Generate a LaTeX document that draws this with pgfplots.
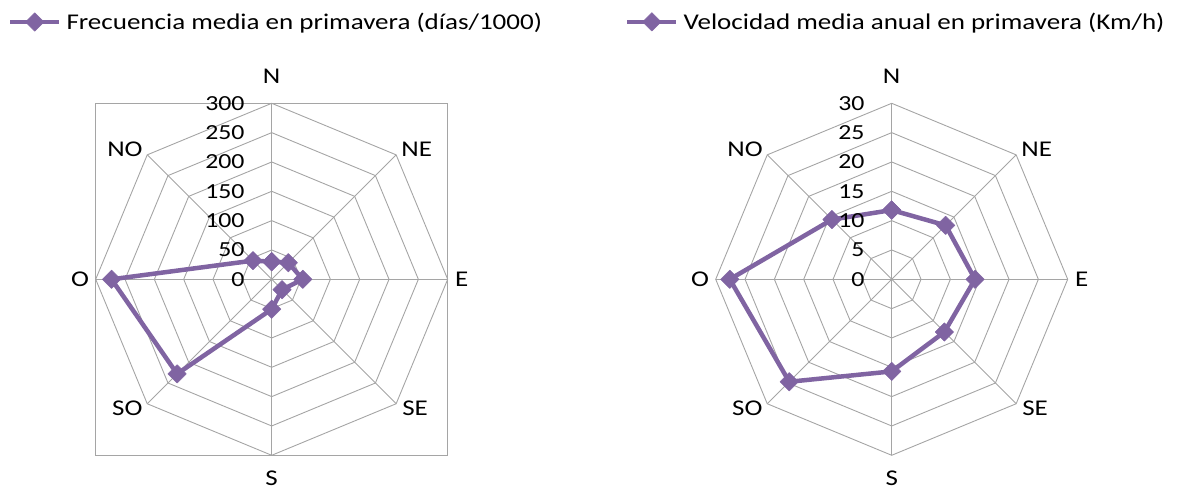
\documentclass[border=0pt]{standalone}
\usepackage{fontspec}
\setmainfont{Carlito}[FakeStretch=1.2]
\usepackage{pgfplots}
\usepgfplotslibrary{polar}
\pgfplotsset{compat=1.18}
\definecolor{series}{RGB}{128,100,162}
\definecolor{gridc}{RGB}{165,165,165}

\pgfplotsset{
 radar/.style={
  width=352pt, height=352pt, scale only axis, hide axis, clip=false,
  xmin=0, xmax=360, ymin=0,
  legend image code/.code={\draw[mark repeat=2,mark phase=2] plot coordinates {(0pt,0pt) (24.5pt,0pt) (49pt,0pt)};},
  legend style={draw=none, fill=none, inner sep=0pt, outer sep=0pt, anchor=west,
    font=\fontsize{22.5}{27}\selectfont, nodes={inner sep=0pt}},
 },
 ring/.style={gridc, line width=0.9pt, forget plot, mark=none},
 serie/.style={color=series, line width=4.5pt, line join=round, mark=square*, mark size=6.5pt,
   mark options={rotate=45, solid, fill=series, line width=0.5pt}},
}
\tikzset{
 cat/.style={font=\fontsize{22.5}{26}\selectfont, inner sep=0pt},
 tck/.style={font=\fontsize{21.5}{25}\selectfont, inner sep=0pt, anchor=east, xshift=-27pt},
}

\begin{document}
\begin{tikzpicture}[x=1pt,y=1pt]
\useasboundingbox (0,0) rectangle (1180,492);

% ---------------- left chart ----------------
\begin{polaraxis}[radar, at={(271.7pt,212.7pt)}, anchor=origin, ymax=300,
  legend style={at={(axis cs:135.7,628)}}]
\addplot[ring] coordinates {(45,424.26) (135,424.26) (225,424.26) (315,424.26) (45,424.26)};
\pgfplotsinvokeforeach{50,100,150,200,250,300}{
 \addplot[ring] coordinates {(0,#1) (45,#1) (90,#1) (135,#1) (180,#1) (225,#1) (270,#1) (315,#1) (360,#1)};
}
\pgfplotsinvokeforeach{0,45,90,135,180,225,270,315}{
 \addplot[ring] coordinates {(#1,0) (#1,300)};
}
\addplot[serie] coordinates {(90,30) (45,40) (0,53) (315,25) (270,51) (225,228) (180,273) (135,45) (90,30)};
\addlegendentry{\hspace{5pt}Frecuencia media en primavera (días/1000)}
\node[cat] at (axis cs:90,346.6) {N};
\node[cat] at (axis cs:41.9,331.9) {NE};
\node[cat] at (axis cs:0,324) {E};
\node[cat] at (axis cs:318.1,328.3) {SE};
\node[cat] at (axis cs:270,338.6) {S};
\node[cat] at (axis cs:221.7,329.7) {SO};
\node[cat] at (axis cs:180,326.7) {O};
\node[cat] at (axis cs:138.5,334) {NO};
\pgfplotsinvokeforeach{0,50,100,150,200,250,300}{
 \node[tck] at (axis cs:90,#1) {#1};
}
\end{polaraxis}

% ---------------- right chart ----------------
\begin{polaraxis}[radar, at={(891.7pt,212.7pt)}, anchor=origin, ymax=30,
  legend style={at={(axis cs:136.0,63.17)}}]
\pgfplotsinvokeforeach{5,10,15,20,25,30}{
 \addplot[ring] coordinates {(0,#1) (45,#1) (90,#1) (135,#1) (180,#1) (225,#1) (270,#1) (315,#1) (360,#1)};
}
\pgfplotsinvokeforeach{0,45,90,135,180,225,270,315}{
 \addplot[ring] coordinates {(#1,0) (#1,30)};
}
\addplot[serie] coordinates {(90,11.8) (45,13.0) (0,14.2) (315,12.7) (270,15.7) (225,24.7) (180,27.6) (135,14.4) (90,11.8)};
\addlegendentry{\hspace{5pt}Velocidad media anual en primavera (Km/h)}
\node[cat] at (axis cs:90,34.66) {N};
\node[cat] at (axis cs:41.9,33.19) {NE};
\node[cat] at (axis cs:0,32.4) {E};
\node[cat] at (axis cs:318.1,32.83) {SE};
\node[cat] at (axis cs:270,33.86) {S};
\node[cat] at (axis cs:221.7,32.97) {SO};
\node[cat] at (axis cs:180,32.67) {O};
\node[cat] at (axis cs:138.5,33.4) {NO};
\pgfplotsinvokeforeach{0,5,10,15,20,25,30}{
 \node[tck] at (axis cs:90,#1) {#1};
}
\end{polaraxis}
\end{tikzpicture}
\end{document}
